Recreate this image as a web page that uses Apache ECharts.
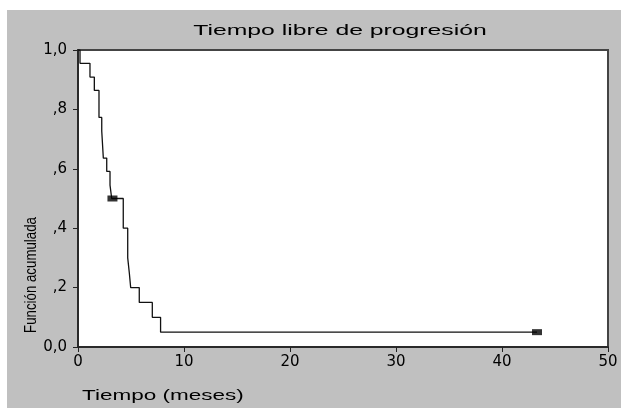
<!DOCTYPE html>
<html>
<head>
<meta charset="utf-8">
<script src="https://cdn.jsdelivr.net/npm/echarts@6/dist/echarts.min.js"></script>
<style>
html,body{margin:0;padding:0;background:#fff;}
#c{width:621px;height:408px;}
</style>
</head>
<body>
<div id="c"></div>
<script>
// Kaplan-Meier step data (time in months, cumulative survival)
const stepTimes = [0, 0.19, 1.13, 1.54, 1.98, 2.24, 2.39, 2.71, 3.02, 3.18, 4.27, 4.69, 4.84, 4.97, 5.78, 7.01, 7.79, 43.3];
const stepValues = [1.0, 0.955, 0.909, 0.864, 0.773, 0.727, 0.636, 0.591, 0.545, 0.5, 0.4, 0.3, 0.25, 0.2, 0.15, 0.1, 0.05, 0.05];
const censorTimes = [3.25, 43.3];
const censorValues = [0.5, 0.05];
const xTicks = [0, 10, 20, 30, 40, 50];
const yTickLabels = {'0': '0,0', '0.2': ',2', '0.4': ',4', '0.6': ',6', '0.8': ',8', '1': '1,0'};
const titleText = 'Tiempo libre de progresión';
const xName = 'Tiempo (meses)';
const yName = 'Función acumulada';

const font = 'Liberation Sans, Arial, sans-serif';
const tickFont = 'DejaVu Sans, sans-serif';
const chart = echarts.init(document.getElementById('c'), null, {renderer: 'canvas'});
const lineData = stepTimes.map((t, i) => [t, stepValues[i]]);
const censorData = censorTimes.map((t, i) => [t, censorValues[i]]);

chart.setOption({
  backgroundColor: '#ffffff',
  animation: false,
  graphic: [
    {type: 'rect', z: -100, shape: {x: 7, y: 10, width: 614, height: 398}, style: {fill: '#c0c0c0'}},
    {type: 'text', x: 340, y: 31, scaleX: 1.65, z: 10,
      style: {text: titleText, x: 0, y: 0, textAlign: 'center', textVerticalAlign: 'middle', font: '15px ' + font, fill: '#000'}},
    {type: 'text', x: 82, y: 396, scaleX: 1.5, z: 10,
      style: {text: xName, x: 0, y: 0, textAlign: 'left', textVerticalAlign: 'middle', font: '15px ' + font, fill: '#000'}},
    {type: 'text', x: 32, y: 275, rotation: Math.PI / 2, scaleX: 0.83, z: 10,
      style: {text: yName, x: 0, y: 0, textAlign: 'center', textVerticalAlign: 'middle', font: '16px ' + font, fill: '#000'}}
  ],
  grid: {left: 78, right: 13, top: 50, bottom: 61, show: true, backgroundColor: '#ffffff', borderColor: '#444', borderWidth: 2},
  xAxis: {
    type: 'value', min: 0, max: 50, interval: 10,
    axisLine: {show: true, onZero: false, lineStyle: {color: '#222', width: 1.5}},
    axisTick: {show: true, length: 5, lineStyle: {color: '#222'}},
    splitLine: {show: false},
    axisLabel: {margin: 8, fontFamily: tickFont, fontSize: 15, color: '#000', formatter: v => xTicks.indexOf(v) >= 0 ? String(v) : ''}
  },
  yAxis: {
    type: 'value', min: 0, max: 1, interval: 0.2,
    axisLine: {show: true, onZero: false, lineStyle: {color: '#222', width: 1.5}},
    axisTick: {show: true, length: 5, lineStyle: {color: '#222'}},
    splitLine: {show: false},
    axisLabel: {margin: 11, fontFamily: tickFont, fontSize: 15, color: '#000',
      formatter: v => yTickLabels[String(Math.round(v * 10) / 10)] || ''}
  },
  series: [
    {type: 'line', step: 'end', data: lineData, symbol: 'none', lineStyle: {color: '#111', width: 1.3}, z: 3},
    {type: 'scatter', data: censorData, symbol: 'rect', symbolSize: [10, 6], itemStyle: {color: '#000'}, z: 4}
  ]
});
</script>
</body>
</html>
